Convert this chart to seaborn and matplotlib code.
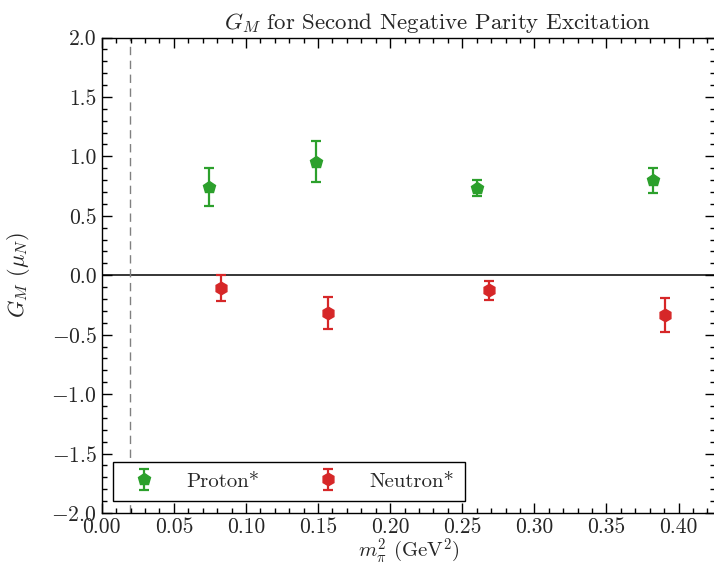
import numpy as np
import pandas as pd
import matplotlib
matplotlib.use("Agg")
import matplotlib.pyplot as plt
import seaborn as sns
from matplotlib.ticker import MultipleLocator

# Data
proton_x = [0.0744, 0.1483, 0.2603, 0.3824]
proton_y = [0.743, 0.956, 0.731, 0.800]
proton_err = [0.163, 0.175, 0.067, 0.105]

neutron_x = [0.0830, 0.1569, 0.2688, 0.3907]
neutron_y = [-0.108, -0.316, -0.128, -0.333]
neutron_err = [0.108, 0.135, 0.077, 0.143]

physical_mpi2 = 0.0195

labels = ["Proton*", "Neutron*"]
colors = ["#2ca02c", "#d62728"]
markers = ["p", "h"]

sns.set_theme(style="ticks")
plt.rcParams["font.family"] = "serif"
plt.rcParams["font.serif"] = ["cmr10", "DejaVu Serif"]
plt.rcParams["mathtext.fontset"] = "cm"
plt.rcParams["axes.formatter.use_mathtext"] = True
plt.rcParams["axes.unicode_minus"] = True

fig = plt.figure(figsize=(7.14, 5.64), dpi=100)
ax = fig.add_axes([101.8 / 714, 51 / 564, 613.5 / 714, 475.5 / 564])

df_p = pd.DataFrame({"x": proton_x, "y": proton_y, "e": proton_err})
df_n = pd.DataFrame({"x": neutron_x, "y": neutron_y, "e": neutron_err})

handles = []
for df, lab, c, m in zip([df_p, df_n], labels, colors, markers):
    h = ax.errorbar(df["x"], df["y"], yerr=df["e"], fmt=m, color=c,
                    markersize=9, capsize=3.5, elinewidth=1.6, capthick=1.6,
                    label=lab)
    handles.append(h)

ax.axhline(0, color="black", lw=1.1, zorder=0)
ax.axvline(physical_mpi2, color="gray", lw=1.0, ls=(0, (6, 4)), zorder=0)

ax.set_xlim(0, 0.4255)
ax.set_ylim(-2.0, 2.0)
ax.xaxis.set_major_locator(MultipleLocator(0.05))
ax.xaxis.set_minor_locator(MultipleLocator(0.01))
ax.yaxis.set_major_locator(MultipleLocator(0.5))
ax.yaxis.set_minor_locator(MultipleLocator(0.1))
ax.xaxis.set_major_formatter(matplotlib.ticker.FormatStrFormatter("%.2f"))
ax.yaxis.set_major_formatter(matplotlib.ticker.FuncFormatter(
    lambda v, p: ("$-$" if v < -1e-9 else "") + "%.1f" % abs(v)))

ax.tick_params(which="both", direction="in", top=True, right=True,
               color="black", labelsize=15.5, width=1.0)
ax.tick_params(which="major", length=7)
ax.tick_params(which="minor", length=3.5)
for s in ax.spines.values():
    s.set_color("black")
    s.set_linewidth(1.0)

ax.set_title(r"$G_M$ for Second Negative Parity Excitation", fontsize=16.5,
             pad=6, x=(437.5 - 101.8) / 613.5)
ax.set_xlabel(r"$m_\pi^2$ (GeV$^2$)", fontsize=15, labelpad=-1)
ax.set_ylabel(r"$G_M$ ($\mu_N$)", fontsize=16, labelpad=14)

leg = ax.legend(handles=handles, labels=labels, loc="lower left", ncol=2,
                fontsize=15, frameon=True, fancybox=False, framealpha=1,
                edgecolor="black", bbox_to_anchor=((113 - 101.8) / 613.5, 12 / 475.5),
                borderaxespad=0, columnspacing=2.3, handletextpad=1.0,
                borderpad=0.5, handlelength=2.0)
leg.get_frame().set_linewidth(1.0)

fig.savefig("out.png", dpi=100)
